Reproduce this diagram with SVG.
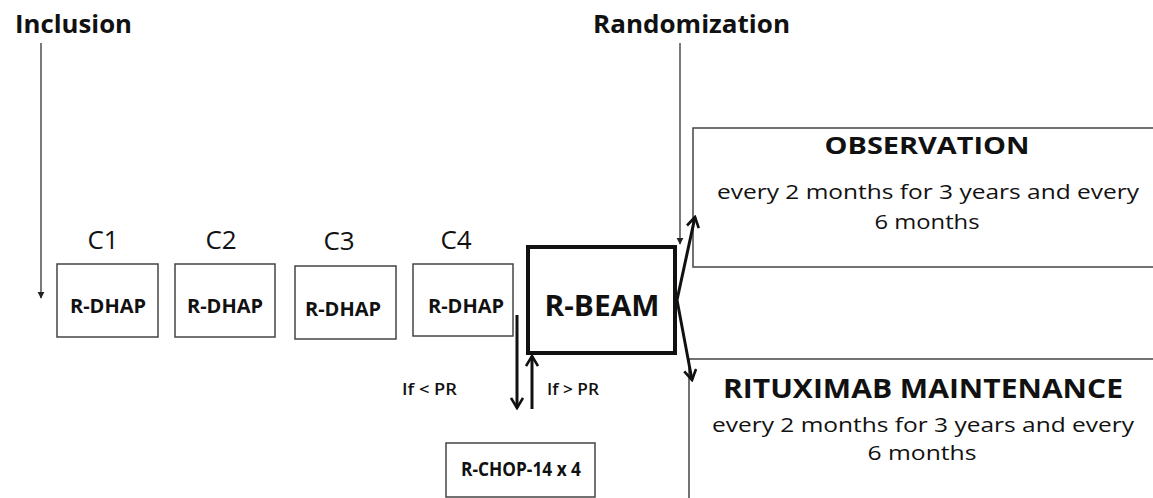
<svg xmlns="http://www.w3.org/2000/svg" width="1153" height="498" viewBox="0 0 1153 498">
  <defs>
    <marker id="tri" viewBox="0 0 10 10" refX="9" refY="5" markerWidth="7" markerHeight="9" markerUnits="userSpaceOnUse" orient="auto">
      <path d="M0,0 L10,5 L0,10 Z" fill="#222"/>
    </marker>
    <marker id="chev" viewBox="0 0 14 14" refX="12" refY="7" markerWidth="14" markerHeight="14" markerUnits="userSpaceOnUse" orient="auto">
      <path d="M2,1 L12,7 L2,13" fill="none" stroke="#111" stroke-width="2.6" stroke-linejoin="miter"/>
    </marker>
  </defs>
  <style>
    text { font-family: "Open Sans", "Liberation Sans", sans-serif; fill: #111; }
    .hdr { font-size: 25px; font-weight: bold; }
    .c { font-size: 26px; text-anchor: middle; }
    .box { fill: #fff; stroke: #444; stroke-width: 1.5; }
    .lbl { font-size: 20px; font-weight: bold; text-anchor: middle; }
    .big { font-weight: bold; text-anchor: middle; }
    .desc { font-size: 20px; text-anchor: middle; }
    .thin { stroke: #333; stroke-width: 1.3; fill: none; }
    .thick { stroke: #111; stroke-width: 3; fill: none; }
    .small { font-size: 16px; font-weight: 600; }
  </style>
  <rect width="1153" height="498" fill="#fff"/>

  <g id="inclusion">
    <text class="hdr" x="15" y="33" textLength="117" lengthAdjust="spacingAndGlyphs">Inclusion</text>
  </g>
  <g id="randomization">
    <text class="hdr" x="593" y="33" textLength="197" lengthAdjust="spacingAndGlyphs">Randomization</text>
  </g>

  <g id="c1">
    <text class="c" x="103" y="249">C1</text>
    <rect class="box" x="57" y="264" width="101" height="73"/>
    <text class="lbl" x="108" y="313">R-DHAP</text>
  </g>
  <g id="c2">
    <text class="c" x="221" y="249">C2</text>
    <rect class="box" x="175" y="264" width="100" height="73"/>
    <text class="lbl" x="225" y="313">R-DHAP</text>
  </g>
  <g id="c3">
    <text class="c" x="339" y="250">C3</text>
    <rect class="box" x="295" y="266" width="101" height="73"/>
    <text class="lbl" x="343" y="316">R-DHAP</text>
  </g>
  <g id="c4">
    <text class="c" x="456" y="249">C4</text>
    <rect class="box" x="413" y="264" width="100" height="72"/>
    <text class="lbl" x="466" y="313">R-DHAP</text>
  </g>

  <g id="rbeam">
    <rect x="528" y="247" width="147" height="106" fill="#fff" stroke="#111" stroke-width="4"/>
    <text class="big" x="602" y="316" font-size="28" textLength="115" lengthAdjust="spacingAndGlyphs">R-BEAM</text>
  </g>

  <g id="observation">
    <rect class="box" x="693" y="128" width="480" height="139"/>
    <text class="big" x="927" y="154" font-size="24" textLength="205" lengthAdjust="spacingAndGlyphs">OBSERVATION</text>
    <text class="desc" x="928" y="199" textLength="422" lengthAdjust="spacingAndGlyphs">every 2 months for 3 years and every</text>
    <text class="desc" x="927" y="229" textLength="105" lengthAdjust="spacingAndGlyphs">6 months</text>
  </g>

  <g id="rituximab">
    <rect class="box" x="689" y="359" width="480" height="160"/>
    <text class="big" x="923" y="398" font-size="26" textLength="400" lengthAdjust="spacingAndGlyphs">RITUXIMAB MAINTENANCE</text>
    <text class="desc" x="923" y="432" textLength="422" lengthAdjust="spacingAndGlyphs">every 2 months for 3 years and every</text>
    <text class="desc" x="922" y="460" textLength="109" lengthAdjust="spacingAndGlyphs">6 months</text>
  </g>

  <g id="rchop">
    <rect class="box" x="446" y="443" width="149" height="54"/>
    <text class="lbl" x="521" y="476" font-size="16" textLength="120" lengthAdjust="spacingAndGlyphs">R-CHOP-14 x 4</text>
  </g>

  <g id="connectors">
    <line class="thin" x1="41" y1="43" x2="41" y2="298" marker-end="url(#tri)"/>
    <line class="thin" x1="680" y1="43" x2="680" y2="244" marker-end="url(#tri)"/>
    <line class="thick" x1="517" y1="315" x2="517" y2="408" marker-end="url(#chev)"/>
    <line class="thick" x1="532" y1="409" x2="532" y2="356" marker-end="url(#chev)"/>
    <line class="thick" x1="677" y1="300" x2="695" y2="217" marker-end="url(#chev)"/>
    <line class="thick" x1="677" y1="300" x2="692" y2="380" marker-end="url(#chev)"/>
    <text class="small" x="402" y="395" textLength="55" lengthAdjust="spacingAndGlyphs">If &lt; PR</text>
    <text class="small" x="547" y="395" textLength="52" lengthAdjust="spacingAndGlyphs">If &gt; PR</text>
  </g>
</svg>
